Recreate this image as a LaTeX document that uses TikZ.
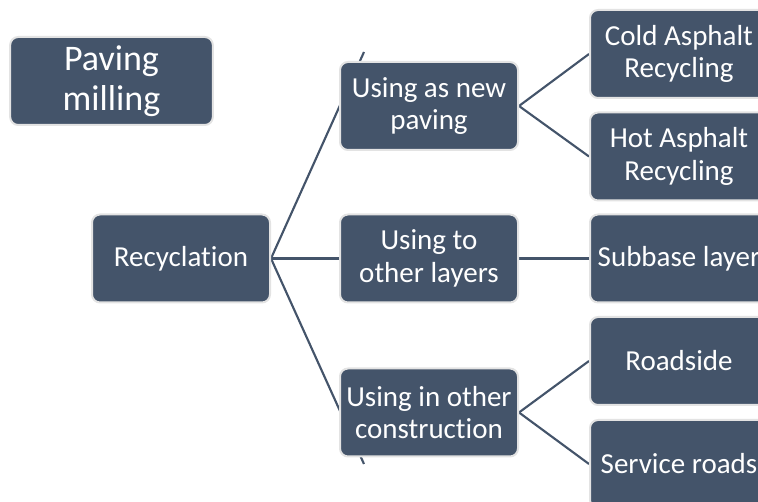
\documentclass[tikz,border=0pt]{standalone}
\usepackage{fontspec}
\setmainfont{Carlito}[Ligatures=NoCommon]
\usetikzlibrary{backgrounds}
\definecolor{slate}{HTML}{44546A}
\definecolor{rim}{HTML}{E3E3E3}

\begin{document}
\begin{tikzpicture}[x=0.75pt, y=-0.75pt,
  box/.style={draw=rim, line width=1.5pt, fill=slate, rounded corners=6pt,
    text=white, align=center, inner sep=2pt,
    minimum width=133.5pt, minimum height=66pt,
    font=\fontsize{21.75}{24.5}\selectfont},
  link/.style={draw=slate, line width=1.6pt}]
\useasboundingbox (0,0) rectangle (758,502);
\clip (0,0) rectangle (758,502);

% title block
\node[box, minimum width=152pt, font=\fontsize{27}{30}\selectfont] (paving) at (111.5,81) {Paving\\milling};

% tree
\node[box] (recycle) at (181,258.5) {Recyclation};
\node[box] (newpav) at (429,106) {Using as new\\paving};
\node[box] (layers) at (429,258.5) {Using to\\other layers};
\node[box] (constr) at (429,412.5) {Using in other\\construction};
\node[box] (cold) at (679,54) {Cold Asphalt\\Recycling};
\node[box] (hot) at (679,156.5) {Hot Asphalt\\Recycling};
\node[box] (subbase) at (679,258.5) {Subbase layer};
\node[box] (roadside) at (679,361) {Roadside};
\node[box] (service) at (679,464) {Service roads};

\coordinate (tipup) at (364,52);
\coordinate (tipdown) at (364,464);

\begin{scope}[on background layer]
\draw[link] (recycle.east) -- (tipup);
\draw[link] (recycle.east) -- (layers.west);
\draw[link] (recycle.east) -- (tipdown);
\draw[link] (newpav.east) -- (cold.west);
\draw[link] (newpav.east) -- (hot.west);
\draw[link] (layers.east) -- (subbase.west);
\draw[link] (constr.east) -- (roadside.west);
\draw[link] (constr.east) -- (service.west);
\end{scope}
\end{tikzpicture}
\end{document}
